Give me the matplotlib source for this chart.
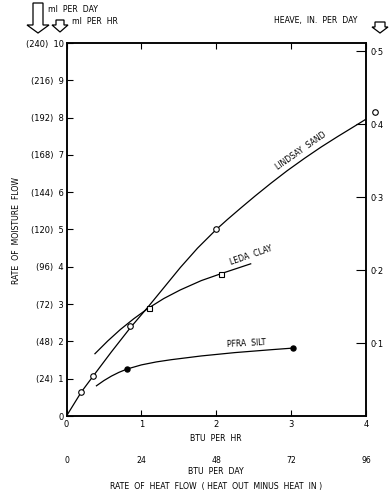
import matplotlib
matplotlib.use("Agg")
import matplotlib.pyplot as plt
from matplotlib.patches import Polygon

# data (x = BTU per hr, y = ml per hr)
sand_x = [0.0, 0.20, 0.36, 0.60, 0.85, 1.10, 1.30, 1.52, 1.75, 2.00, 2.15, 2.33, 2.52, 2.73, 2.95, 3.18, 3.40, 3.62, 3.84, 4.05]
sand_y = [0.0, 0.65, 1.08, 1.72, 2.36, 2.95, 3.44, 3.98, 4.50, 5.00, 5.27, 5.58, 5.90, 6.24, 6.58, 6.91, 7.21, 7.49, 7.76, 8.02]
sand_pts_x = [0.20, 0.36, 0.85, 2.00, 4.12]
sand_pts_y = [0.65, 1.08, 2.42, 5.00, 8.15]

clay_x = [0.38, 0.55, 0.72, 0.90, 1.10, 1.30, 1.52, 1.80, 2.07, 2.46]
clay_y = [1.67, 2.01, 2.32, 2.61, 2.90, 3.15, 3.38, 3.63, 3.82, 4.08]
clay_pts_x = [1.10, 2.07]
clay_pts_y = [2.90, 3.82]

silt_x = [0.40, 0.50, 0.60, 0.70, 0.81, 1.00, 1.20, 1.40, 1.60, 1.80, 2.00, 2.25, 2.50, 2.75, 3.02]
silt_y = [0.81, 0.95, 1.07, 1.17, 1.26, 1.37, 1.45, 1.51, 1.56, 1.61, 1.65, 1.70, 1.74, 1.78, 1.82]
silt_pts_x = [0.81, 3.02]
silt_pts_y = [1.26, 1.82]

hr_ticks = [0, 1, 2, 3, 4]
day_labels = ["0", "24", "48", "72", "96"]
flow_ticks = list(range(11))
flow_day = [24 * v for v in flow_ticks]
heave_ticks = [0.1, 0.2, 0.3, 0.4, 0.5]
heave_scale = 19.57  # ml/hr units per 1 in/day

plt.rcParams['font.family'] = ['DejaVu Sans']
fs = 5.6

fig = plt.figure(figsize=(3.91, 4.90), dpi=100)
ax = fig.add_axes([66.5 / 391, 74 / 490, 299.5 / 391, 373 / 490])

ax.plot(sand_x, sand_y, color='black', lw=0.9)
ax.plot(sand_pts_x, sand_pts_y, 'o', ms=4, mfc='white', mec='black', mew=0.8, clip_on=False)
ax.plot(clay_x, clay_y, color='black', lw=0.9)
ax.plot(clay_pts_x, clay_pts_y, 's', ms=3.6, mfc='white', mec='black', mew=0.8)
ax.plot(silt_x, silt_y, color='black', lw=0.9)
ax.plot(silt_pts_x, silt_pts_y, 'o', ms=3.6, color='black')

ax.text(3.13, 7.10, "LINDSAY  SAND", rotation=35, fontsize=fs, ha='center', va='center')
ax.text(2.47, 4.30, "LEDA  CLAY", rotation=19, fontsize=fs, ha='center', va='center')
ax.text(2.40, 1.94, "PFRA  SILT", rotation=3, fontsize=fs, ha='center', va='center')

ax.set_xlim(0, 4)
ax.set_ylim(0, 10)
ax.set_xticks(hr_ticks)
ax.set_xticklabels([str(v) for v in hr_ticks])
ax.set_yticks(flow_ticks)
lab = []
for v, d in zip(flow_ticks, flow_day):
    lab.append("0" if v == 0 else "(%d)  %d" % (d, v))
ax.set_yticklabels(lab)
ax.tick_params(direction='in', length=4, width=0.8, labelsize=6, pad=2)
ax.tick_params(axis='x', top=True, pad=3)
for s in ax.spines.values():
    s.set_linewidth(1.1)

ax2 = ax.twinx()
ax2.set_ylim(0, 10 / heave_scale)
ax2.set_yticks(heave_ticks)
ax2.set_yticklabels([("%.1f" % v).replace(".", "·") for v in heave_ticks])
ax2.tick_params(direction='in', length=7, width=0.8, labelsize=6, pad=3)
for s in ax2.spines.values():
    s.set_linewidth(1.1)

# lower heading rows
tr = ax.get_xaxis_transform()
ax.text(2, -0.06, "BTU  PER  HR", transform=tr, fontsize=fs, ha='center', va='center')
for x, t in zip(hr_ticks, day_labels):
    ax.text(x, -0.12, t, transform=tr, fontsize=fs, ha='center', va='center')
ax.text(2, -0.148, "BTU  PER  DAY", transform=tr, fontsize=fs, ha='center', va='center')
ax.text(2, -0.19, "RATE  OF  HEAT  FLOW  ( HEAT  OUT  MINUS  HEAT  IN )", transform=tr,
        fontsize=fs, ha='center', va='center')

fig.text(17 / 391, 1 - 231 / 490, "RATE  OF  MOISTURE  FLOW", rotation=90,
         fontsize=fs, ha='center', va='center')
fig.text(48 / 391, 1 - 9 / 490, "ml  PER  DAY", fontsize=fs, ha='left', va='center')
fig.text(72 / 391, 1 - 22 / 490, "ml  PER  HR", fontsize=fs, ha='left', va='center')
fig.text(274 / 391, 1 - 20 / 490, "HEAVE,  IN.  PER  DAY", fontsize=fs, ha='left', va='center')


def down_arrow(cx, top, neck, tip, sw, hw):
    # hollow arrow, pixel coords from top-left
    pts = [(cx - sw, top), (cx + sw, top), (cx + sw, neck), (cx + hw, neck),
           (cx, tip), (cx - hw, neck), (cx - sw, neck)]
    pts = [(x / 391, 1 - y / 490) for x, y in pts]
    fig.patches.append(Polygon(pts, closed=True, fill=False, ec='black', lw=0.9,
                               transform=fig.transFigure))


down_arrow(38, 3, 25, 33, 5, 11)
down_arrow(60, 20, 25, 32, 4, 8)
down_arrow(380, 22, 27, 33, 5, 8)

fig.savefig("out.png", dpi=100)
